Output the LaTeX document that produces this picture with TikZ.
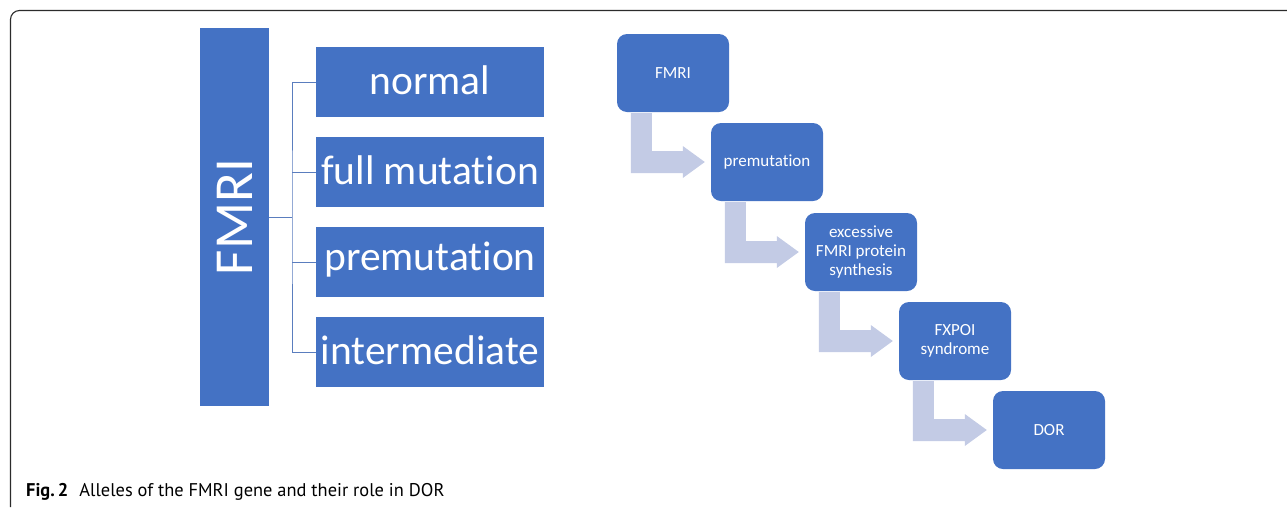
\documentclass[tikz,border=0pt]{standalone}
\usepackage{fontspec}
\setmainfont[Ligatures={NoCommon}]{Carlito}
\newfontfamily\capfont{PT Sans}
\usetikzlibrary{calc}
\definecolor{ofblue}{HTML}{4472C4}
\definecolor{arrfill}{HTML}{C3CBE5}
\definecolor{connc}{HTML}{5A7DBE}
\definecolor{framec}{HTML}{2B2B2B}
\begin{document}
\begin{tikzpicture}[x=1pt,y=-1pt,
  bigbar/.style={fill=ofblue, minimum width=69pt, minimum height=378pt, inner sep=0pt, text=white},
  allele/.style={fill=ofblue, minimum width=228pt, minimum height=70.5pt, inner sep=0pt, text=white,
    text height=29pt, text depth=4pt, font=\fontsize{41.5}{45}\selectfont},
  flowbox/.style={fill=ofblue, rounded corners=10pt, minimum width=112pt, minimum height=78pt,
    inner sep=0pt, text=white, align=center, font=\fontsize{17}{19}\selectfont},
  conn/.style={draw=connc, line width=1pt},
  bendfill/.style={fill=arrfill},
  frameline/.style={draw=framec, line width=1.1pt, rounded corners=9pt}]
\useasboundingbox (0,0) rectangle (1287,507);
% frame
\coordinate (fbl) at (10.5,507);
\coordinate (ftl) at (10.5,10.5);
\coordinate (ftr) at (1287,10.5);
\draw[frameline] (fbl) -- (ftl) -- (ftr);

% left: alleles
\node[bigbar] (bar) at (234.5,217) {\rotatebox{90}{\fontsize{55}{60}\selectfont FMRI}};
\node[allele] (b1) at (430,82) {normal};
\node[allele] (b2) at (430,172) {full mutation};
\node[allele, text depth=12pt] (b3) at (430,262) {premutation};
\node[allele] (b4) at (430,352) {intermediate};
\coordinate (jn) at (292,217);
\draw[conn] (bar.east) -- (jn);
\draw[conn] (b1.west) -| (jn) |- (b4.west);
\draw[conn] (b2.west) -- (b2.west -| jn);
\draw[conn] (b3.west) -- (b3.west -| jn);

% right: process
\node[flowbox] (f1) at (673,73) {FMRI};
\node[flowbox] (f2) at (767,162) {premutation};
\node[flowbox] (f3) at (861,252) {excessive\\FMRI protein\\synthesis};
\node[flowbox] (f4) at (955,341) {FXPOI\\syndrome};
\node[flowbox] (f5) at (1049,430) {DOR};

\newcommand{\bendarrow}[2]{%
  \fill[bendfill] let \p1=(#1.south west), \p2=(#2.west) in
    (\x1+14pt,\y1-1pt) -- (\x1+35pt,\y1-1pt) -- (\x1+35pt,\y2+11pt) -- (\x2-28pt,\y2+11pt)
    -- (\x2-28pt,\y2+16pt) -- (\x2-6pt,\y2) -- (\x2-28pt,\y2-16pt) -- (\x2-28pt,\y2-11pt)
    -- (\x1+14pt,\y2-11pt) -- cycle;}
\bendarrow{f1}{f2}
\bendarrow{f2}{f3}
\bendarrow{f3}{f4}
\bendarrow{f4}{f5}

% caption
\node[anchor=base west, inner sep=0pt, font=\capfont\fontsize{18.4}{21}\selectfont] (cap) at (26,496.5)
  {\textbf{Fig.\,2}\hspace{0.6em}Alleles of the FMRI gene and their role in DOR};
\end{tikzpicture}
\end{document}
